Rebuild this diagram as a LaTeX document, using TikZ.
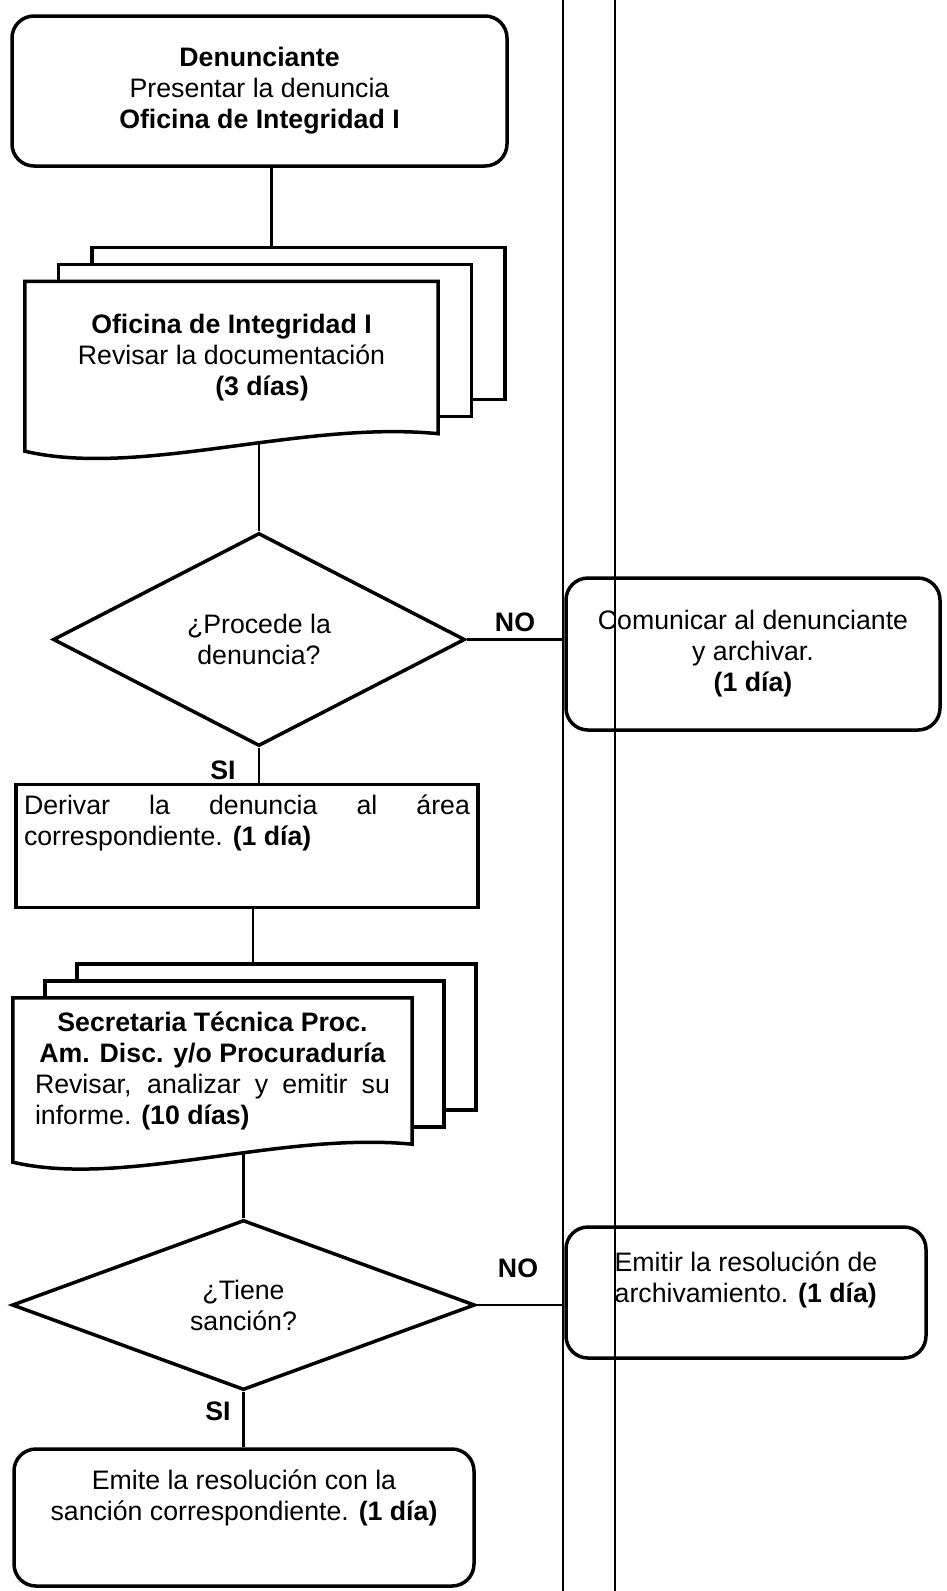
\documentclass[tikz,border=0pt]{standalone}
\usepackage{fontspec}
\setmainfont{Liberation Sans}
\usetikzlibrary{shapes.geometric}
\pgfdeclarelayer{background}
\pgfsetlayers{background,main}
\newcommand{\flowsize}{\fontsize{26.7pt}{31pt}\selectfont}
\hyphenpenalty=10000
\tolerance=10000

\begin{document}
\begin{tikzpicture}[x=1pt,y=1pt,
    font=\flowsize,
    box/.style={
      draw,
      black,
      line width=3.5pt,
      fill=white,
      align=center,
      inner sep=0pt
    },
    roundbox/.style={box, rounded corners=22pt},
    decision/.style={box, shape=diamond},
    docnode/.style={align=center, inner sep=0pt},
    page/.style={draw, black, line width=3.5pt, fill=white},
    lbl/.style={font=\flowsize\bfseries},
    line/.style={black, line width=2.5pt},
    lane/.style={black, line width=2pt}
    ]
    \useasboundingbox (0,0) rectangle (946,-1591);
    %\draw[help lines] (0,0) grid[step=100] (946,-1591);
    \node[roundbox, minimum width=495pt, minimum height=150pt] (denunciante) at (259.5,-91) {\textbf{Denunciante}\\ Presentar la denuncia\\ \textbf{Oficina de Integridad I}};
    \node[docnode, minimum width=413pt, minimum height=152pt] (revisar) at (231.5,-357.5) {\textbf{Oficina de Integridad I}\\ Revisar la documentación\\ \hspace*{61pt}\textbf{(3 días)}};
    \node[decision, minimum width=412pt, minimum height=213pt] (procede) at (259,-639.5) {¿Procede la\\ denuncia?};
    \node[roundbox, minimum width=374pt, minimum height=152pt] (comunicar) at (753,-654) {Comunicar al denunciante\\ y archivar.\\ \textbf{(1 día)}};
    \node[lbl] (no1) at (515,-622) {NO};
    \node[lbl] (si1) at (223,-770) {SI};
    \node[box, inner xsep=8pt, inner ysep=10pt] (derivar) at (247,-846) {\parbox[c][103pt][t]{446pt}{Derivar la denuncia al área correspondiente. \textbf{(1 día)}}};
    \node[docnode, minimum width=399pt, minimum height=146pt, text width=355pt, align=justify] (informe) at (212.5,-1071) {{\centering\bfseries Secretaria Técnica Proc.\par Am. Disc. y/o Procuraduría\par}Revisar, analizar y emitir su informe. \textbf{(10 días)}};
    \node[decision, minimum width=463pt, minimum height=170pt] (tiene) at (243.5,-1305) {¿Tiene\\ sanción?};
    \node[roundbox, minimum width=360pt, minimum height=131pt] (emitir) at (746,-1292.5) {\parbox[c][85pt][t]{330pt}{\centering\begin{tabular}{@{}l@{}}Emitir la resolución de\\ archivamiento. \textbf{(1 día)}\end{tabular}}};
    \node[lbl] (no2) at (518,-1268) {NO};
    \node[lbl] (si2) at (218,-1411) {SI};
    \node[roundbox, minimum width=460pt, minimum height=137pt] (emite) at (244,-1517.5) {\parbox[c][96pt][t]{440pt}{\centering Emite la resolución con la\\ sanción correspondiente. \textbf{(1 día)}}};

    \coordinate (revisartop) at ([shift={(67,34)}]revisar.north);
    \coordinate (informetop) at ([shift={(64,34)}]informe.north);

    % hojas apiladas
    \begin{pgfonlayer}{background}
      \fill[white] (0,0) rectangle (946,-1591);
      \draw[line] (procede.north) -- (procede.north |- revisar.south);
      \draw[line] (tiene.north) -- (tiene.north |- informe.south);
      \draw[page] ([shift={(67,34)}]revisar.south west) rectangle ([shift={(67,34)}]revisar.north east);
      \draw[page] ([shift={(33.5,17)}]revisar.south west) rectangle ([shift={(33.5,17)}]revisar.north east);
      \draw[page] (revisar.north west) -- (revisar.north east) -- (revisar.south east)
        .. controls ([shift={(-138,13.5)}]revisar.south east) and ([shift={(-298,-44.5)}]revisar.south east)
        .. ([yshift=-17.5]revisar.south west) -- cycle;
      \draw[page] ([shift={(64,34)}]informe.south west) rectangle ([shift={(64,34)}]informe.north east);
      \draw[page] ([shift={(32,17)}]informe.south west) rectangle ([shift={(32,17)}]informe.north east);
      \draw[page] (informe.north west) -- (informe.north east) -- (informe.south east)
        .. controls ([shift={(-133,13)}]informe.south east) and ([shift={(-288,-44)}]informe.south east)
        .. ([yshift=-18]informe.south west) -- cycle;
    \end{pgfonlayer}

    \draw[line] ([xshift=12pt]denunciante.south) -- ([xshift=12pt]denunciante.south |- revisartop);
    \draw[line] (procede.east) -- (procede.east -| comunicar.west);
    \draw[line] (procede.south) -- (procede.south |- derivar.north);
    \draw[line] ([xshift=6pt]derivar.south) -- ([xshift=6pt]derivar.south |- informetop);
    \draw[line] (tiene.east) -- (tiene.east -| emitir.west);
    \draw[line] (tiene.south) -- (tiene.south |- emite.north);

    % carriles
    \draw[lane] (563,0) -- (563,-1591);
    \draw[lane] (615,0) -- (615,-1591);
  \end{tikzpicture}
\end{document}
